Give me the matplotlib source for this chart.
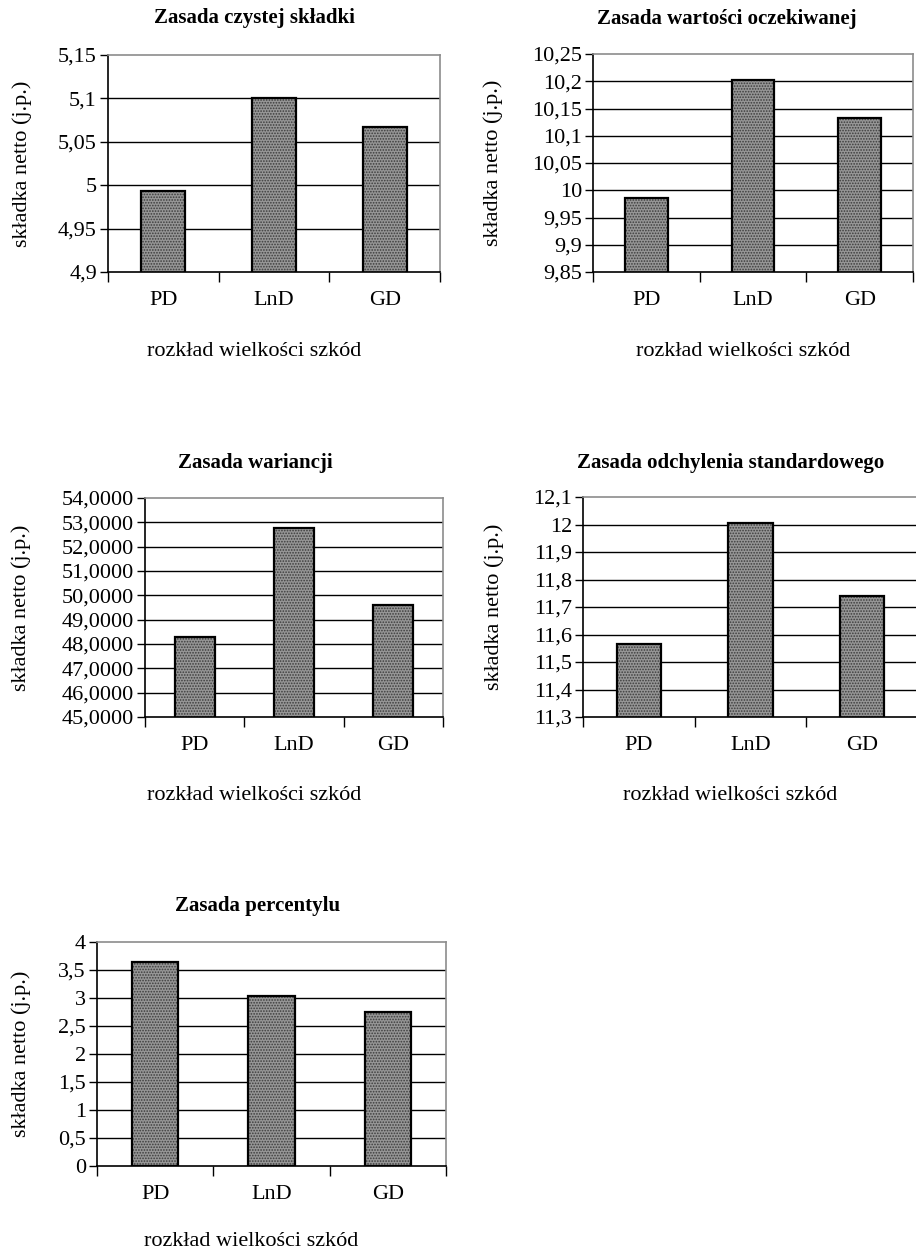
import matplotlib
matplotlib.use("Agg")
import matplotlib.pyplot as plt
import numpy as np
from matplotlib.ticker import FuncFormatter, FixedLocator

plt.rcParams['font.family'] = ['Liberation Serif', 'DejaVu Serif']
plt.rcParams['hatch.linewidth'] = 0.8

categories = ["PD", "LnD", "GD"]

titles = [
    "Zasada czystej składki",
    "Zasada wartości oczekiwanej",
    "Zasada wariancji",
    "Zasada odchylenia standardowego",
    "Zasada percentylu",
]
czysta = [4.993, 5.100, 5.067]
oczekiwana = [9.985, 10.202, 10.132]
wariancja = [48.27, 52.77, 49.59]
odchylenie = [11.565, 12.007, 11.740]
percentyl = [3.642, 3.027, 2.748]
series = [czysta, oczekiwana, wariancja, odchylenie, percentyl]

yticks = [
    [4.9, 4.95, 5.0, 5.05, 5.1, 5.15],
    [9.85, 9.9, 9.95, 10.0, 10.05, 10.1, 10.15, 10.2, 10.25],
    [45, 46, 47, 48, 49, 50, 51, 52, 53, 54],
    [11.3, 11.4, 11.5, 11.6, 11.7, 11.8, 11.9, 12.0, 12.1],
    [0, 0.5, 1, 1.5, 2, 2.5, 3, 3.5, 4],
]
decimals = [None, None, 4, None, None]

W, H = 916, 1254
fig = plt.figure(figsize=(W / 100, H / 100), dpi=100)

# axes boxes in pixels: left, right, top, bottom
boxes = [
    (108, 440, 55, 272),
    (593, 913, 54, 272),
    (145, 443, 498, 717),
    (583, 918, 497, 717),
    (97, 446, 942, 1166),
]
# title / x-label centres and y-label x position, pixels
title_xy = [(254, 18), (727, 19), (255, 463), (731, 463), (258, 906)]
xlab_xy = [(254, 351), (743, 351), (254, 796), (730, 796), (251, 1242)]
ylab_x = [22, 493, 21, 494, 21]


def fmt_comma(nd):
    def f(v, pos):
        s = f"{v:.{nd}f}" if nd is not None else f"{v:g}"
        return s.replace(".", ",")
    return f


x = np.arange(1, len(categories) + 1)
for i in range(5):
    l, r, t, b = boxes[i]
    ax = fig.add_axes([l / W, 1 - b / H, (r - l) / W, (b - t) / H])
    vals = series[i]
    ticks = yticks[i]
    ax.set_ylim(ticks[0], ticks[-1])
    ax.set_xlim(0.5, 3.5)

    for yv in ticks[1:-1]:
        ax.axhline(yv, color="black", lw=1.0, zorder=1)

    # checkered fill, then a separate black outline
    ax.bar(x, vals, width=0.4, color="#969696", hatch="......",
           edgecolor="#3c3c3c", linewidth=0, zorder=2)
    ax.bar(x, vals, width=0.4, fill=False, edgecolor="black",
           linewidth=1.6, zorder=3)

    ax.yaxis.set_major_locator(FixedLocator(ticks))
    ax.yaxis.set_major_formatter(FuncFormatter(fmt_comma(decimals[i])))
    ax.tick_params(axis="y", direction="out", length=6, width=1,
                   pad=2, labelsize=16)

    ax.xaxis.set_major_locator(FixedLocator([0.5, 1.5, 2.5, 3.5]))
    ax.xaxis.set_major_formatter(FuncFormatter(lambda v, p: ""))
    ax.set_xticks(x, categories, minor=True)
    ax.tick_params(axis="x", which="major", direction="out", length=7, width=1)
    ax.tick_params(axis="x", which="minor", length=0, pad=14, labelsize=16)

    ax.spines["left"].set_color("black")
    ax.spines["bottom"].set_color("black")
    ax.spines["top"].set_color("#8c8c8c")
    ax.spines["right"].set_color("#8c8c8c")
    for sp in ax.spines.values():
        sp.set_linewidth(1.2)
        sp.set_zorder(4)

    tx, ty = title_xy[i]
    fig.text(tx / W, 1 - ty / H, titles[i], ha="center", va="center",
             fontsize=15, fontweight="bold")
    xx, xy = xlab_xy[i]
    fig.text(xx / W, 1 - xy / H, "rozkład wielkości szkód", ha="center",
             va="center", fontsize=16)
    fig.text(ylab_x[i] / W, 1 - (t + b) / 2 / H, "składka netto (j.p.)",
             ha="center", va="center", rotation=90, fontsize=16)

fig.savefig("out.png", dpi=100, facecolor="white")
